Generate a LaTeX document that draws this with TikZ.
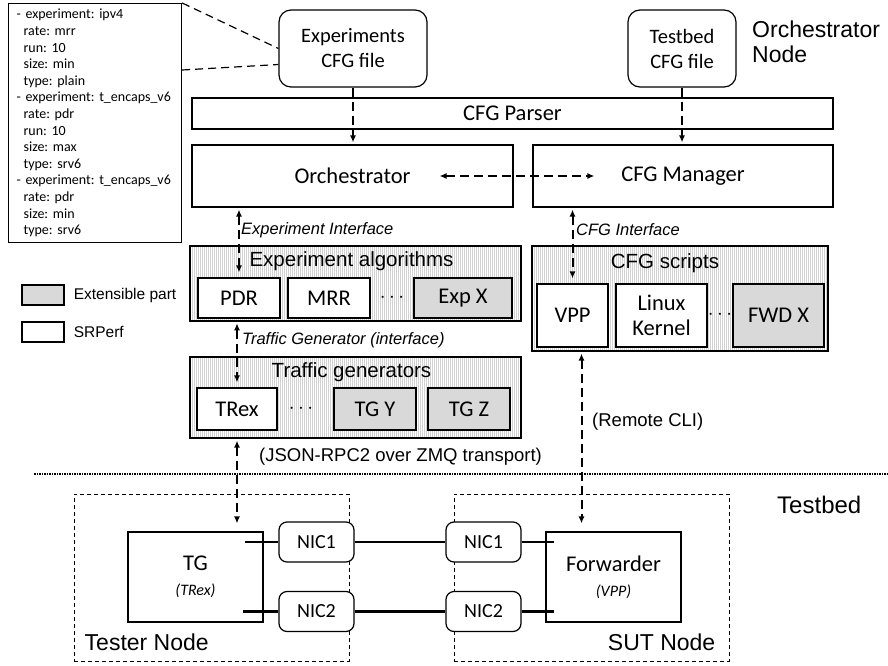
\documentclass[tikz,border=0pt]{standalone}
\usepackage{fontspec}
\setmainfont{Carlito}
\newfontfamily\arial{Liberation Sans}
\usetikzlibrary{arrows.meta}
\usetikzlibrary{patterns.meta}
\usetikzlibrary{positioning}
\frenchspacing

\tikzset{
  box/.style={draw, line width=1.2pt, fill=white, align=center, inner sep=0pt, font=\fontsize{22.5}{25}\selectfont},
  cfgfile/.style={box, rounded corners=12pt, font=\fontsize{20.5}{25}\selectfont},
  ext/.style={box, fill=gray!30},
  group/.style={draw, line width=1.2pt, inner sep=0pt, pattern={Lines[angle=90,distance=2pt,line width=0.6pt]}, pattern color=gray!35},
  grouptitle/.style={font=\arial\fontsize{20.5}{24}\selectfont, inner sep=0pt},
  iface/.style={font=\arial\itshape\fontsize{16.5}{20}\selectfont, anchor=west, inner sep=0pt},
  note/.style={font=\arial\fontsize{18.5}{22}\selectfont, anchor=west, inner sep=0pt},
  place/.style={font=\arial\fontsize{23}{25}\selectfont, inner sep=0pt},
  flow/.style={line width=2pt, dash pattern=on 9pt off 5pt, ->, shorten >=2pt},
  biflow/.style={line width=2pt, dash pattern=on 9pt off 5pt, <->, shorten <=2pt, shorten >=5pt},
  nic/.style={box, rounded corners=8pt, minimum width=75pt, minimum height=40pt, font=\fontsize{20}{24}\selectfont},
  host/.style={draw, line width=1pt, dash pattern=on 4pt off 3pt, minimum width=275pt, minimum height=167pt},
  link/.style={line width=2.4pt},
  dots/.style={inner sep=0pt, font=\fontsize{22}{24}\selectfont},
}

\begin{document}
\begin{tikzpicture}[x=1pt, y=-1pt, >={Latex[length=7pt,width=6pt]}]
  \useasboundingbox (0,0) rectangle (888,666);

  % orchestrator node
  \node[draw, line width=1.2pt, anchor=north west, minimum width=173pt, minimum height=239pt,
        text width=157pt, align=left, inner xsep=8pt, inner ysep=0pt,
        font=\fontsize{14}{16.6}\selectfont] (yaml) at (8,3)
    {- experiment: ipv4\\ \hspace*{7pt}rate: mrr\\ \hspace*{7pt}run: 10\\ \hspace*{7pt}size: min\\
     \hspace*{7pt}type: plain\\ - experiment: t\_encaps\_v6\\ \hspace*{7pt}rate: pdr\\ \hspace*{7pt}run: 10\\
     \hspace*{7pt}size: max\\ \hspace*{7pt}type: srv6\\ - experiment: t\_encaps\_v6\\ \hspace*{7pt}rate: pdr\\
     \hspace*{7pt}size: min\\ \hspace*{7pt}type: srv6};
  \node[cfgfile, minimum width=148pt, minimum height=77pt] (expcfg) at (353,48.5) {Experiments\\CFG file};
  \node[cfgfile, minimum width=108pt, minimum height=77pt] (tbcfg) at (682,48.5) {Testbed\\CFG file};
  \node[place, align=left, anchor=west] (orchlbl) at (752,42) {Orchestrator\\Node};
  \draw[line width=1.2pt, dash pattern=on 8pt off 5pt] (yaml.north east) -- (expcfg.west);
  \draw[line width=1.2pt, dash pattern=on 8pt off 5pt] ([yshift=-67pt]yaml.north east) -- ([yshift=-16pt]expcfg.west);

  \node[box, minimum width=641pt, minimum height=31pt] (parser) at (512.5,113.5) {CFG Parser};
  \node[box, minimum width=321pt, minimum height=62pt] (orch) at (352.5,176) {Orchestrator};
  \node[box, minimum width=300pt, minimum height=62pt] (mgr) at (683,176) {CFG Manager};
  \draw[flow] (expcfg.south) -- (expcfg.south |- orch.north);
  \draw[flow] (tbcfg.south) -- (tbcfg.south |- mgr.north);
  \draw[biflow, shorten >=0pt, shorten <=0pt] ([xshift=-74pt]orch.east) -- ([xshift=62pt]mgr.west);

  % experiments
  \node[group, minimum width=331pt, minimum height=75pt] (expgrp) at (355.5,283.5) {};
  \node[grouptitle, below=6pt of expgrp.north, xshift=-4pt] (exptitle) {Experiment algorithms};
  \node[box, minimum width=82pt, minimum height=40pt] (pdr) at (239,298) {PDR};
  \node[box, minimum width=82pt, minimum height=40pt] (mrr) at (329,298) {MRR};
  \node[dots] (expdots) at (392,298) {$\cdots$};
  \node[ext, minimum width=98pt, minimum height=40pt] (expx) at (463,298) {Exp X};

  % traffic generators
  \node[group, minimum width=331pt, minimum height=81pt] (tgengrp) at (355.5,397.5) {};
  \node[grouptitle, below=6pt of tgengrp.north, xshift=-4pt] (tgentitle) {Traffic generators};
  \node[box, minimum width=80pt, minimum height=42pt] (trex) at (237,409) {TRex};
  \node[dots] (tgdots) at (301,409) {$\cdots$};
  \node[ext, minimum width=82pt, minimum height=42pt] (tgy) at (375,409) {TG Y};
  \node[ext, minimum width=82pt, minimum height=42pt] (tgz) at (469,409) {TG Z};

  % cfg scripts
  \node[group, minimum width=296pt, minimum height=105pt] (scrgrp) at (680,298.5) {};
  \node[grouptitle, below=8pt of scrgrp.north, xshift=-15pt] (scrtitle) {CFG scripts};
  \node[box, minimum width=71pt, minimum height=63pt] (vpp) at (572.5,315.5) {VPP};
  \node[box, minimum width=91pt, minimum height=63pt] (linux) at (661.5,315.5) {Linux\\Kernel};
  \node[dots] (scrdots) at (720,315) {$\cdots$};
  \node[ext, minimum width=91pt, minimum height=63pt] (fwdx) at (778.5,315.5) {FWD X};

  % legend
  \node[ext, minimum width=42pt, minimum height=20pt] (legext) at (43,295) {};
  \node[note, font=\arial\fontsize{15.5}{18}\selectfont, right=9pt of legext] (legexttxt) {Extensible part};
  \node[box, minimum width=42pt, minimum height=20pt] (legsrp) at (43,332) {};
  \node[note, font=\arial\fontsize{15.5}{18}\selectfont, right=9pt of legsrp] (legsrptxt) {SRPerf};

  % testbed
  \coordinate (sepL) at (34,474);
  \coordinate (sepR) at (888,474);
  \draw[line width=2pt, dash pattern=on 1.5pt off 1pt] (sepL) -- (sepR);
  \node[place, font=\arial\fontsize{24}{25}\selectfont, anchor=west] (tbedlbl) at (777,505) {Testbed};

  \node[host] (tester) at (211.5,577.5) {};
  \node[host] (sut) at (591.5,577.5) {};
  \node[place, anchor=base west] (testerlbl) at ([xshift=11pt,yshift=11pt]tester.south west) {Tester Node};
  \node[place, anchor=base east] (sutlbl) at ([xshift=-14pt,yshift=11pt]sut.south east) {SUT Node};
  \node[box, minimum width=135pt, minimum height=90pt] (tg) at (195.5,577) {TG\\{\itshape\fontsize{16}{18}\selectfont (TRex)}};
  \node[box, minimum width=135pt, minimum height=90pt] (fwd) at (613.5,577) {Forwarder\\{\itshape\fontsize{16}{18}\selectfont (VPP)}};
  \node[nic] (tnicA) at (316.5,542) {NIC1};
  \node[nic] (tnicB) at (316.5,611.5) {NIC2};
  \node[nic] (snicA) at (483.5,542) {NIC1};
  \node[nic] (snicB) at (483.5,611.5) {NIC2};
  \draw[link] (tnicA) -- (snicA);
  \draw[link] (tnicB) -- (snicB);
  \draw[link] (tnicA.west) -- ++(-33,0);
  \draw[link] (tnicB.west) -- ++(-35,0);
  \draw[link] (snicA.east) -- ++(32,0);
  \draw[link] (snicB.east) -- ++(32,0);

  % interfaces
  \draw[biflow] (pdr.north |- orch.south) -- (pdr.north);
  \draw[biflow] (vpp.north |- mgr.south) -- (vpp.north);
  \draw[biflow] (trex.north |- expgrp.south) -- (trex.north);
  \draw[biflow, shorten >=8pt] (trex.south |- tgengrp.south) -- (trex.south |- tg.north);
  \coordinate (cli) at ([xshift=-32pt]fwd.north);
  \draw[biflow, shorten >=8pt] (cli |- scrgrp.south) -- (cli);
  \node[iface] (expif) at (241,230) {Experiment Interface};
  \node[iface] (cfgif) at (576,230) {CFG Interface};
  \node[iface] (tgif) at (242,340) {Traffic Generator (interface)};
  \node[note] (rpclbl) at (259,457) {(JSON-RPC2 over ZMQ transport)};
  \node[note] (clilbl) at (592,422) {(Remote CLI)};
\end{tikzpicture}
\end{document}
